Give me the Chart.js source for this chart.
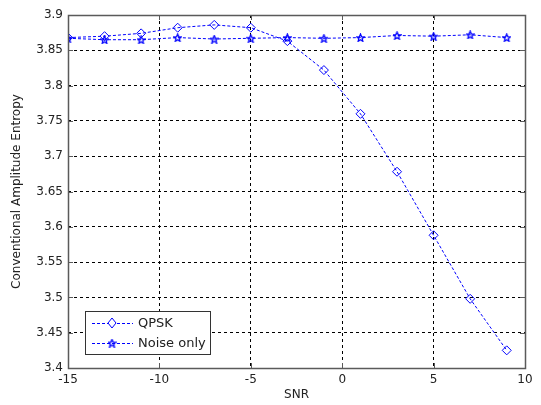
<!DOCTYPE html>
<html>
<head>
<meta charset="utf-8">
<script src="https://cdn.jsdelivr.net/npm/chart.js@4/dist/chart.umd.min.js"></script>
<style>
  html, body { margin: 0; padding: 0; background: #fff; }
  #chart { display: block; }
</style>
</head>
<body>
<canvas id="chart" width="541" height="405"></canvas>
<script>
// data
var snr = [-15, -13, -11, -9, -7, -5, -3, -1, 1, 3, 5, 7, 9];
var qpsk = [3.868, 3.870, 3.874, 3.882, 3.886, 3.882, 3.863, 3.822, 3.760, 3.678, 3.588, 3.498, 3.425];
var noiseOnly = [3.867, 3.865, 3.865, 3.868, 3.866, 3.867, 3.868, 3.867, 3.868, 3.871, 3.870, 3.872, 3.868];
var xTicks = [-15, -10, -5, 0, 5, 10];
var yTicks = [3.4, 3.45, 3.5, 3.55, 3.6, 3.65, 3.7, 3.75, 3.8, 3.85, 3.9];

var BLUE = '#0000ff';
var FONT = 'DejaVu Sans';

// matlab-like pentagram marker
function makeStar(size) {
    var c = document.createElement('canvas');
    c.width = size; c.height = size;
    var g = c.getContext('2d');
    var cx = size / 2, cy = size / 2 + 0.5, ro = size / 2 - 0.5, ri = ro * 0.45;
    g.beginPath();
    for (var i = 0; i < 10; i++) {
        var r = i % 2 ? ri : ro;
        var a = -Math.PI / 2 + i * Math.PI / 5;
        var px = cx + r * Math.cos(a), py = cy + r * Math.sin(a);
        if (i === 0) g.moveTo(px, py); else g.lineTo(px, py);
    }
    g.closePath();
    g.strokeStyle = BLUE;
    g.lineWidth = 1.3;
    g.stroke();
    return c;
}
var star = makeStar(9);

var framePlugin = {
    id: 'frame',
    afterDraw: function(chart) {
        var ctx = chart.ctx, a = chart.chartArea;
        var xs = chart.scales.x, ys = chart.scales.y;
        ctx.save();
        ctx.strokeStyle = '#5a5a5a';
        ctx.lineWidth = 1;
        ctx.setLineDash([]);
        ctx.beginPath();
        xTicks.forEach(function(v) {
            var px = Math.round(xs.getPixelForValue(v)) + 0.5;
            ctx.moveTo(px, a.bottom); ctx.lineTo(px, a.bottom - 5);
            ctx.moveTo(px, a.top); ctx.lineTo(px, a.top + 5);
        });
        yTicks.forEach(function(v) {
            var py = Math.round(ys.getPixelForValue(v)) + 0.5;
            ctx.moveTo(a.left, py); ctx.lineTo(a.left + 5, py);
            ctx.moveTo(a.right, py); ctx.lineTo(a.right - 5, py);
        });
        ctx.stroke();
        ctx.lineWidth = 1.5;
        ctx.strokeRect(Math.round(a.left) + 0.5, Math.round(a.top) + 0.5,
                       Math.round(a.right - a.left), Math.round(a.bottom - a.top));

        // legend box in lower left
        var lx = 85, ly = 311, lw = 125, lh = 43;
        ctx.fillStyle = '#fff';
        ctx.fillRect(lx, ly, lw, lh);
        ctx.lineWidth = 1;
        ctx.strokeStyle = '#333';
        ctx.strokeRect(lx + 0.5, ly + 0.5, lw, lh);
        var rows = [
            { label: 'QPSK', y: 323, mark: 'diamond' },
            { label: 'Noise only', y: 343, mark: 'star' }
        ];
        rows.forEach(function(r) {
            ctx.strokeStyle = BLUE;
            ctx.setLineDash([3, 2]);
            ctx.beginPath();
            ctx.moveTo(92, r.y + 0.5); ctx.lineTo(133, r.y + 0.5);
            ctx.stroke();
            ctx.setLineDash([]);
            if (r.mark === 'diamond') {
                ctx.fillStyle = '#fff';
                ctx.beginPath();
                ctx.moveTo(112, r.y - 5); ctx.lineTo(116, r.y);
                ctx.lineTo(112, r.y + 5); ctx.lineTo(108, r.y);
                ctx.closePath();
                ctx.fill(); ctx.stroke();
            } else {
                ctx.drawImage(star, 112 - 4.5, r.y - 4.5);
            }
            ctx.fillStyle = '#222';
            ctx.font = '13px ' + FONT;
            ctx.textBaseline = 'middle';
            ctx.fillText(r.label, 138, r.y + 1);
        });
        ctx.restore();
    }
};

new Chart(document.getElementById('chart'), {
    type: 'line',
    data: {
        datasets: [
            {
                label: 'QPSK',
                data: snr.map(function(x, i) { return { x: x, y: qpsk[i] }; }),
                borderColor: BLUE,
                borderWidth: 1,
                borderDash: [3, 2],
                pointStyle: 'rectRot',
                pointRadius: 4.5,
                pointBorderColor: BLUE,
                pointBackgroundColor: 'rgba(255,255,255,0)',
                pointBorderWidth: 1,
                tension: 0
            },
            {
                label: 'Noise only',
                data: snr.map(function(x, i) { return { x: x, y: noiseOnly[i] }; }),
                borderColor: BLUE,
                borderWidth: 1,
                borderDash: [3, 2],
                pointStyle: star,
                pointRadius: 4,
                tension: 0
            }
        ]
    },
    options: {
        responsive: false,
        animation: false,
        devicePixelRatio: 1,
        layout: { padding: { left: 0, top: 15, right: 16, bottom: 0 } },
        plugins: { legend: { display: false }, tooltip: { enabled: false } },
        scales: {
            x: {
                type: 'linear',
                min: -15, max: 10,
                afterBuildTicks: function(s) { s.ticks = xTicks.map(function(v) { return { value: v }; }); },
                afterFit: function(s) { s.height = 37; },
                grid: { color: '#000', drawTicks: false, lineWidth: 1 },
                border: { display: false, dash: [3, 3] },
                ticks: { color: '#222', font: { family: FONT, size: 12 }, padding: 5, maxRotation: 0 },
                title: { display: true, text: 'SNR', color: '#222', font: { family: FONT, size: 12 }, padding: { top: 3, bottom: 3 } }
            },
            y: {
                min: 3.4, max: 3.9,
                afterBuildTicks: function(s) { s.ticks = yTicks.map(function(v) { return { value: v }; }); },
                afterFit: function(s) { s.width = 68; },
                grid: { color: '#000', drawTicks: false, lineWidth: 1 },
                border: { display: false, dash: [3, 3] },
                ticks: {
                    color: '#222', font: { family: FONT, size: 12 }, padding: 5,
                    callback: function(v) { return String(Math.round(v * 100) / 100); }
                },
                title: { display: true, text: 'Conventional Amplitude Entropy', color: '#222', font: { family: FONT, size: 12 }, padding: { top: 10, bottom: 4 } }
            }
        }
    },
    plugins: [framePlugin]
});
</script>
</body>
</html>
